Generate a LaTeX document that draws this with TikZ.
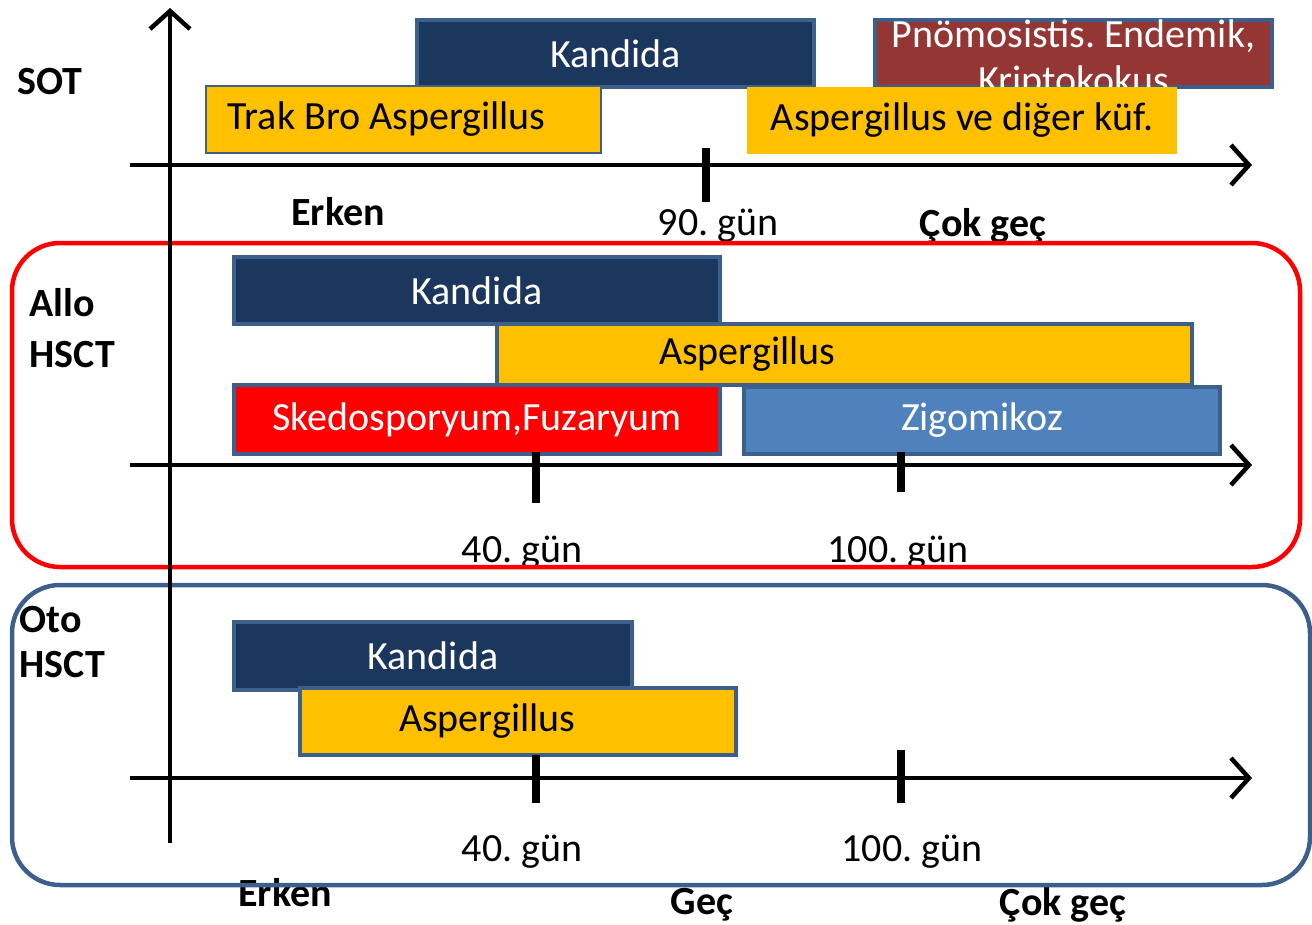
\documentclass[tikz,border=0pt]{standalone}
\usepackage{fontspec}
\setmainfont{Carlito}
\usepackage{xcolor}
\usetikzlibrary{arrows.meta, positioning}
\frenchspacing

\definecolor{navy}{HTML}{1C375E}
\definecolor{edgeblue}{HTML}{3C5F8C}
\definecolor{amber}{HTML}{FFC000}
\definecolor{brick}{HTML}{943634}
\definecolor{zigo}{HTML}{4F81BD}

\begin{document}
\begin{tikzpicture}[x=1pt, y=-1pt, font=\fontsize{40}{46}\selectfont,
  bar/.style={rectangle, draw=edgeblue, line width=4pt, anchor=north west, inner sep=0pt},
  axis/.style={line width=4.5pt, -{Straight Barb[length=18pt,width=40pt]}},
  ticks/.style={line width=8pt},
  lbl/.style={font=\fontsize{40}{46}\selectfont\bfseries},
  frame/.style={line width=4.5pt, rounded corners=48pt}]

\useasboundingbox (0,0) rectangle (1312,924);

\node[bar, fill=navy, text=white, minimum width=397pt, minimum height=67pt] (sotkan) at (415,18) {Kandida};
\node[bar, fill=brick, minimum width=397pt, minimum height=67pt] (sotpno) at (873,18) {};
\node[text=white, align=flush center, anchor=north, inner sep=0pt] (sotpnotxt) at ([yshift=-2pt]sotpno.north) {Pnömosistis. Endemik,\\Kriptokokus};
\node[bar, line width=1.5pt, fill=amber, minimum width=395pt, minimum height=67pt, inner xsep=22pt, text width=351pt, align=flush left] (sottrak) at (205,85) {Trak Bro Aspergillus};
\node[bar, draw=none, fill=amber, minimum width=430pt, minimum height=67pt] (sotkuf) at (745,85) {Aspergillus ve diğer küf.};

\coordinate (sotbas) at (130,165);
\coordinate (sotson) at (1252,165);
\draw[axis] (sotbas) -- (sotson);
\draw[ticks] (706,148) -- (706,202);

\node[lbl] (sotad) at (50,82) {SOT};
\node[lbl] (erken1) at (338,212) {Erken};
\node (gun90) at (718,226) {90. gün};
\node[lbl] (cokgec1) at (983,226) {Çok geç};

\node[bar, fill=navy, text=white, minimum width=486pt, minimum height=67pt] (allokan) at (232,255) {Kandida};
\node[bar, fill=amber, minimum width=695pt, minimum height=61pt, inner xsep=162pt, text width=371pt, align=flush left] (alloasp) at (495,322) {Aspergillus};
\node[bar, fill=red, text=white, minimum width=486pt, minimum height=69pt] (alloske) at (232,383) {Skedosporyum,Fuzaryum};
\node[bar, fill=zigo, text=white, minimum width=476pt, minimum height=67pt] (allozig) at (742,385) {Zigomikoz};

\coordinate (allobas) at (130,465);
\coordinate (alloson) at (1252,465);
\draw[axis] (allobas) -- (alloson);
\draw[ticks] (536,452) -- (536,503);
\draw[ticks] (901,452) -- (901,492);

\node[lbl, anchor=west] (allo) at (26,303) {Allo};
\node[lbl, anchor=west] (allohsct) at (26,355) {HSCT};
\node (gun40a) at (522,553) {40. gün};
\node (gun100a) at (898,553) {100. gün};

\node[bar, fill=navy, text=white, minimum width=398pt, minimum height=68pt] (otokan) at (232,620) {Kandida};
\node[bar, fill=amber, minimum width=436pt, minimum height=67pt, inner xsep=99pt, text width=238pt, align=flush left] (otoasp) at (298,686) {Aspergillus};

\coordinate (otobas) at (130,778);
\coordinate (otoson) at (1252,778);
\draw[axis] (otobas) -- (otoson);
\draw[ticks] (536,755) -- (536,803);
\draw[ticks] (901,750) -- (901,803);

\node[lbl, anchor=west] (oto) at (16,620) {Oto};
\node[lbl, anchor=west] (otohsct) at (16,665) {HSCT};
\node (gun40b) at (522,852) {40. gün};
\node (gun100b) at (912,852) {100. gün};
\node[lbl] (erken2) at (285,893) {Erken};
\node[lbl] (gec) at (702,905) {Geç};
\node[lbl] (cokgec2) at (1063,905) {Çok geç};

\draw[frame, red] (12,243) rectangle (1300,567);
\draw[frame, edgeblue] (12,585) rectangle (1310,885);

\coordinate (dikbas) at (170,843);
\coordinate (dikson) at (170,8);
\draw[axis] (dikbas) -- (dikson);

\end{tikzpicture}
\end{document}
